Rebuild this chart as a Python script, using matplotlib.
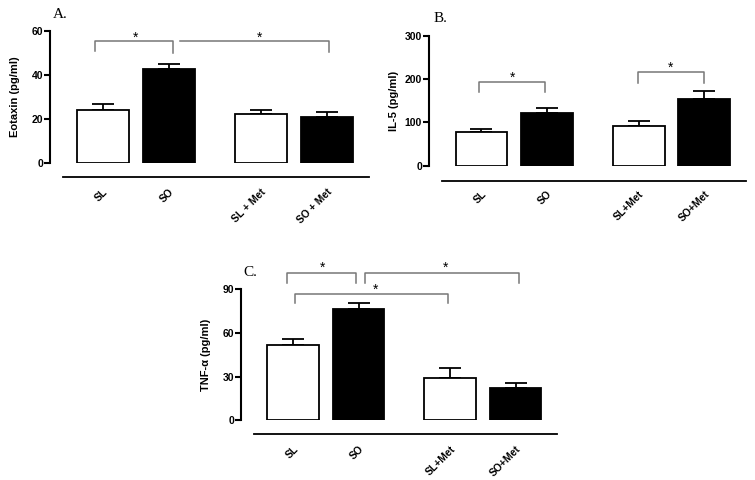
import numpy as np
import matplotlib.pyplot as plt

plt.rcParams['font.family'] = ['Liberation Sans', 'DejaVu Sans']

groups = ['SL', 'SO', 'SL + Met', 'SO + Met']
groups_b = ['SL', 'SO', 'SL+Met', 'SO+Met']
pos = np.array([0, 1, 2.4, 3.4])
colors = ['white', 'black', 'white', 'black']

eotaxin = [24.3, 42.6, 22.1, 21.0]
eotaxin_err = [2.3, 2.3, 2.2, 2.0]
il5 = [78, 121, 91, 154]
il5_err = [6, 12, 12, 18]
tnf = [51.7, 76.7, 29.0, 22.0]
tnf_err = [3.9, 3.7, 6.7, 3.3]

# significance brackets: (x_left, x_right, y_top, y_left_end, y_right_end, star_x, star_y)
brackets_a = [(-0.12, 1.06, 55.6, 51.0, 50.0, 0.49, 57.0),
              (1.17, 3.43, 55.6, 55.6, 50.5, 2.37, 57.0)]
brackets_b = [(-0.04, 0.97, 194, 171, 171, 0.48, 203),
              (2.38, 3.40, 217, 192, 192, 2.88, 227)]
brackets_c = [(-0.09, 0.96, 101, 94.5, 94.5, 0.44, 104.5),
              (1.10, 3.45, 101, 94.5, 94.5, 2.33, 104.5),
              (0.03, 2.37, 86.6, 80.4, 80.4, 1.26, 90.0)]

W, H = 755, 480
fig = plt.figure(figsize=(7.55, 4.8), dpi=100)


def panel(left, top, width, height, vals, errs, ymax, yticks, ylabel, labels,
          brackets, title, title_xy, base_off, ylab_x):
    ax = fig.add_axes([left / W, 1 - (top + height) / H, width / W, height / H])
    ax.bar(pos, vals, width=0.79, color=colors, edgecolor='black', linewidth=1.3, zorder=2)
    ax.errorbar(pos, vals, yerr=[np.zeros(4), errs], fmt='none', ecolor='black',
                elinewidth=1.3, capsize=8, capthick=1.3, zorder=1)
    ax.set_xlim(-0.8, 4.05)
    ax.set_ylim(0, ymax)
    for s in ['top', 'right', 'bottom']:
        ax.spines[s].set_visible(False)
    ax.spines['left'].set_linewidth(1.5)
    ax.set_yticks(yticks)
    ax.tick_params(axis='y', length=4, width=1.5, labelsize=7.5, pad=1)
    for t in ax.get_yticklabels():
        t.set_fontweight('bold')
    ax.set_xticks(pos)
    ax.set_xticklabels(labels, rotation=45, ha='right', rotation_mode='anchor',
                       fontsize=7.5, fontweight='bold')
    ax.tick_params(axis='x', length=0, pad=17)
    ax.set_ylabel(ylabel, fontsize=8, fontweight='bold')
    ax.yaxis.set_label_coords(ylab_x, 0.5)
    # baseline under the bars
    ax.plot([-0.6, 4.03], [-base_off, -base_off], color='black', lw=1.3,
            transform=ax.get_xaxis_transform(), clip_on=False)
    for x0, x1, yt, yl, yr, sx, sy in brackets:
        ax.plot([x0, x0, x1, x1], [yl, yt, yt, yr], color='#777777', lw=1.1,
                clip_on=False)
        ax.text(sx, sy, '*', ha='center', va='center', fontsize=10, clip_on=False)
    fig.text(title_xy[0] / W, 1 - title_xy[1] / H, title, family='Liberation Serif',
             fontsize=11, ha='left', va='center')
    return ax


panel(50, 31, 320, 132, eotaxin, eotaxin_err, 60, [0, 20, 40, 60], 'Eotaxin (pg/ml)',
      groups, brackets_a, 'A.', (53, 14), 0.106, -0.095)
panel(429, 36, 318, 129.7, il5, il5_err, 300, [0, 100, 200, 300], 'IL-5 (pg/ml)',
      groups_b, brackets_b, 'B.', (434, 19), 0.118, -0.095)
panel(241, 289.3, 317, 131, tnf, tnf_err, 90, [0, 30, 60, 90], 'TNF-α (pg/ml)',
      groups_b, brackets_c, 'C.', (243, 273), 0.105, -0.095)

fig.savefig('out.png', dpi=100)
